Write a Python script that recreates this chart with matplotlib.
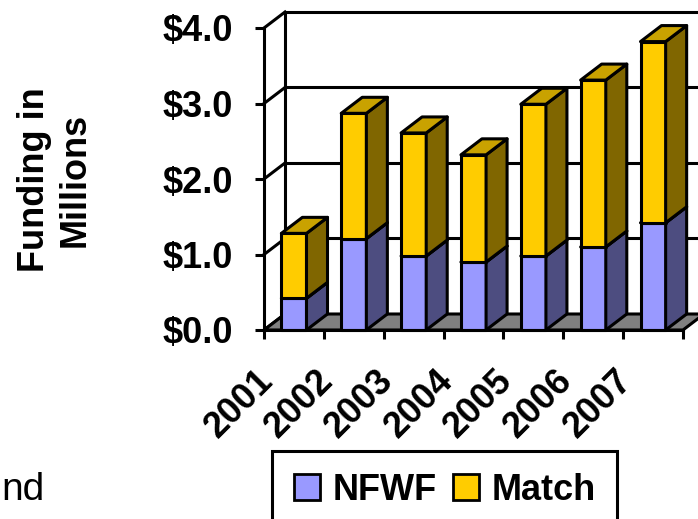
import matplotlib
matplotlib.use("Agg")
import matplotlib.pyplot as plt
from matplotlib.patches import Polygon, Patch
from matplotlib.transforms import ScaledTranslation

# --- data ---
years = ["2001", "2002", "2003", "2004", "2005", "2006", "2007"]
nfwf = [0.42, 1.21, 0.98, 0.90, 0.98, 1.10, 1.42]
match = [0.86, 1.66, 1.63, 1.42, 2.01, 2.21, 2.40]
yticks = [0, 1, 2, 3, 4]
ytick_labels = ["$0.0", "$1.0", "$2.0", "$3.0", "$4.0"]

# --- style ---
plt.rcParams["font.family"] = ["Liberation Sans", "DejaVu Sans"]
FS = 26
LW = 2.2
DX, DY = 0.351, 0.212      # depth offset (category units, value units)
BAR_OFF, BAR_W = 0.29, 0.42
colors = {
    "NFWF": ("#9999FF", "#4D4D80", "#7A7ACC"),
    "Match": ("#FFCC00", "#806600", "#C9A200"),
}

fig = plt.figure(figsize=(6.98, 5.19), dpi=100)
ax = fig.add_axes([264 / 698, 189 / 519, 419 / 698, 302 / 519])
ax.set_xlim(0, len(years))
ax.set_ylim(0, 4)

# walls and floor
n = len(years)
for v in yticks[1:]:
    ax.plot([DX, n + DX], [v + DY, v + DY], color="black", lw=LW, clip_on=False, zorder=1)
for v in yticks:
    ax.plot([0, DX], [v, v + DY], color="black", lw=LW, clip_on=False, zorder=1)
ax.plot([DX, DX], [DY, 4 + DY], color="black", lw=LW, clip_on=False, zorder=1)
floor = Polygon([(0, 0), (n, 0), (n + DX, DY), (DX, DY)], closed=True,
                facecolor="#808080", edgecolor="black", lw=LW, clip_on=False, zorder=2)
ax.add_patch(floor)


def draw_block(x0, y0, y1, name, z):
    front, side, top = colors[name]
    x1 = x0 + BAR_W
    kw = dict(closed=True, edgecolor="black", lw=LW, clip_on=False, zorder=z,
              joinstyle="round")
    ax.add_patch(Polygon([(x0, y0), (x1, y0), (x1, y1), (x0, y1)], facecolor=front, **kw))
    ax.add_patch(Polygon([(x1, y0), (x1 + DX, y0 + DY), (x1 + DX, y1 + DY), (x1, y1)],
                         facecolor=side, **kw))
    ax.add_patch(Polygon([(x0, y1), (x1, y1), (x1 + DX, y1 + DY), (x0 + DX, y1 + DY)],
                         facecolor=top, **kw))


for i in range(n):
    x0 = i + BAR_OFF
    draw_block(x0, 0, nfwf[i], "NFWF", 3 + i * 2)
    draw_block(x0, nfwf[i], nfwf[i] + match[i], "Match", 4 + i * 2)

# axes look
for s in ["top", "right"]:
    ax.spines[s].set_visible(False)
for s in ["left", "bottom"]:
    ax.spines[s].set_linewidth(LW)
    ax.spines[s].set_zorder(30)
ax.set_yticks(yticks, labels=ytick_labels)
ax.set_xticks(range(n + 1), labels=[""] * (n + 1))
ax.tick_params(axis="both", direction="out", length=6.5, width=LW)
ax.tick_params(axis="y", pad=16, labelsize=FS)
for lab in ax.get_yticklabels():
    lab.set_fontweight("bold")

off = ScaledTranslation(-0.26, -0.45, fig.dpi_scale_trans)
for i, yr in enumerate(years):
    ax.text(i + 0.5, 0, yr, transform=ax.get_xaxis_transform() + off,
            rotation=45, rotation_mode="anchor", ha="right", va="center",
            fontsize=FS, fontweight="bold")

fig.text(55 / 698, 1 - 180 / 519, "Funding in\nMillions", rotation=90,
         ha="center", va="center", fontsize=FS, fontweight="bold",
         multialignment="center", linespacing=1.2)

# leftover slide text at the left edge
fig.text(1 / 698, 19 / 519, "nd", ha="left", va="baseline", fontsize=28)

handles = [Patch(facecolor=colors[k][0], edgecolor="black", lw=2) for k in ["NFWF", "Match"]]
leg = fig.legend(handles, ["NFWF", "Match"], loc="upper left",
                 bbox_to_anchor=(272 / 698, 1 - 451 / 519), ncol=2, frameon=True,
                 fancybox=False, framealpha=1, prop={"size": FS, "weight": "bold"},
                 handlelength=0.72, handleheight=0.72, handletextpad=0.35,
                 columnspacing=0.45, borderpad=0.6, borderaxespad=0)
leg.get_frame().set_edgecolor("black")
leg.get_frame().set_linewidth(LW)

fig.savefig("out.png", dpi=100)
